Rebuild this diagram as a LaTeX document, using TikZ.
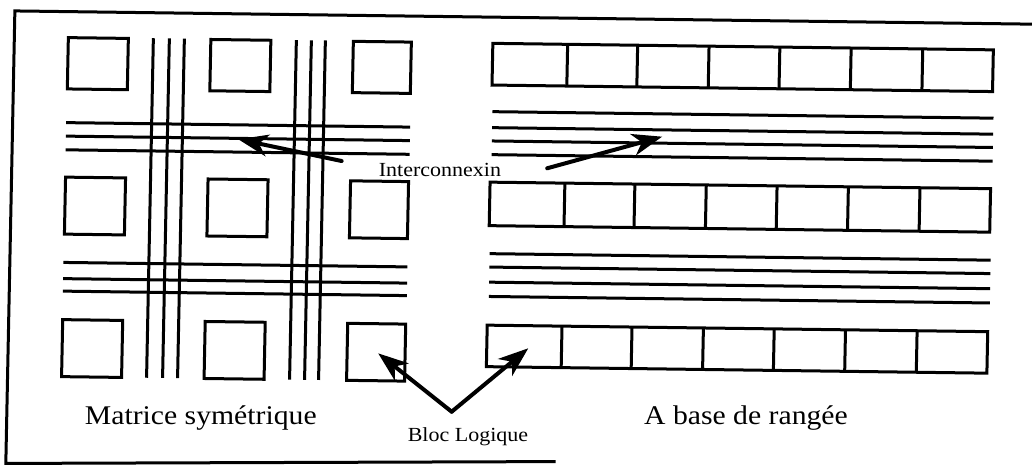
\documentclass[tikz,border=0pt]{standalone}
\usepackage{fontspec}
\setmainfont{Liberation Serif}
\usetikzlibrary{arrows.meta}
\begin{document}
\begin{tikzpicture}[x=1pt,y=-1pt,
  wire/.style={line width=3pt},
  cell/.style={line width=3pt},
  frame/.style={line width=3pt},
  pointer/.style={line width=4pt, line cap=round, -{Stealth[length=30pt,width=22pt,inset=9pt]}},
  biglabel/.style={font=\fontsize{27}{32}\selectfont, anchor=base, xscale=1.1, inner sep=0pt},
  smalllabel/.style={font=\fontsize{20}{24}\selectfont, anchor=base, xscale=1.1, inner sep=0pt}]
\useasboundingbox (0,0) rectangle (1032,472);
\begin{scope}[cm={1,-0.013,0.02,1,(4.72pt,6.708pt)}]
  % frame (open on the right)
  \draw[frame] (560,461) -- (10.5,470) -- (10.5,17.5) -- (1040,17.5);
  % symmetric matrix: logic blocks
  \foreach \xa/\xb in {64.5/124.5, 207/267, 349.5/407.5}
    \foreach \ya/\yb in {43.5/94.8, 183/240, 325.5/382.5}
      \draw[cell] (\xa,\ya) rectangle (\xb,\yb);
  % symmetric matrix: routing channels
  \foreach \x in {149.5,165.5,180.5,292.5,307.5,321.5}
    \draw[wire] (\x,43) -- (\x,382.5);
  \foreach \y in {128.5,142,155.7,268.3,284.5,297}
    \draw[wire] (64,\y) -- (408,\y);
  % row based: rows of blocks
  \foreach \ya/\yb in {43.7/85.4, 182.5/226, 325.5/367} {
    \draw[cell] (489,\ya) rectangle (989.5,\yb);
    \foreach \x in {563.8,633.8,705.2,776,847.3,918.9}
      \draw[cell] (\x,\ya) -- (\x,\yb);
  }
  % row based: routing channels
  \foreach \y in {112,128,141.3,155,254,267.4,282.5,296.8}
    \draw[wire] (490,\y) -- (991,\y);
  % arrow end points
  \coordinate (i1a) at (340.2,163.3);
  \coordinate (i1b) at (236.4,142.9);
  \coordinate (i2a) at (545.8,167.9);
  \coordinate (i2b) at (660.1,134.8);
  \coordinate (bv) at (455.2,412.5);
  \coordinate (bl) at (380.6,355.1);
  \coordinate (br) at (530.5,348.1);
\end{scope}
\node[biglabel] (mat) at (200.8,424) {Matrice symétrique};
\node[biglabel] (rang) at (746,424) {A base de rangée};
\node[smalllabel] (inter) at (440,176.7) {Interconnexin};
\node[smalllabel] (bloc) at (468,441) {Bloc Logique};
\draw[pointer] (i1a) -- (i1b);
\draw[pointer] (i2a) -- (i2b);
\draw[pointer] (bv) -- (bl);
\draw[pointer] (bv) -- (br);
\end{tikzpicture}
\end{document}
